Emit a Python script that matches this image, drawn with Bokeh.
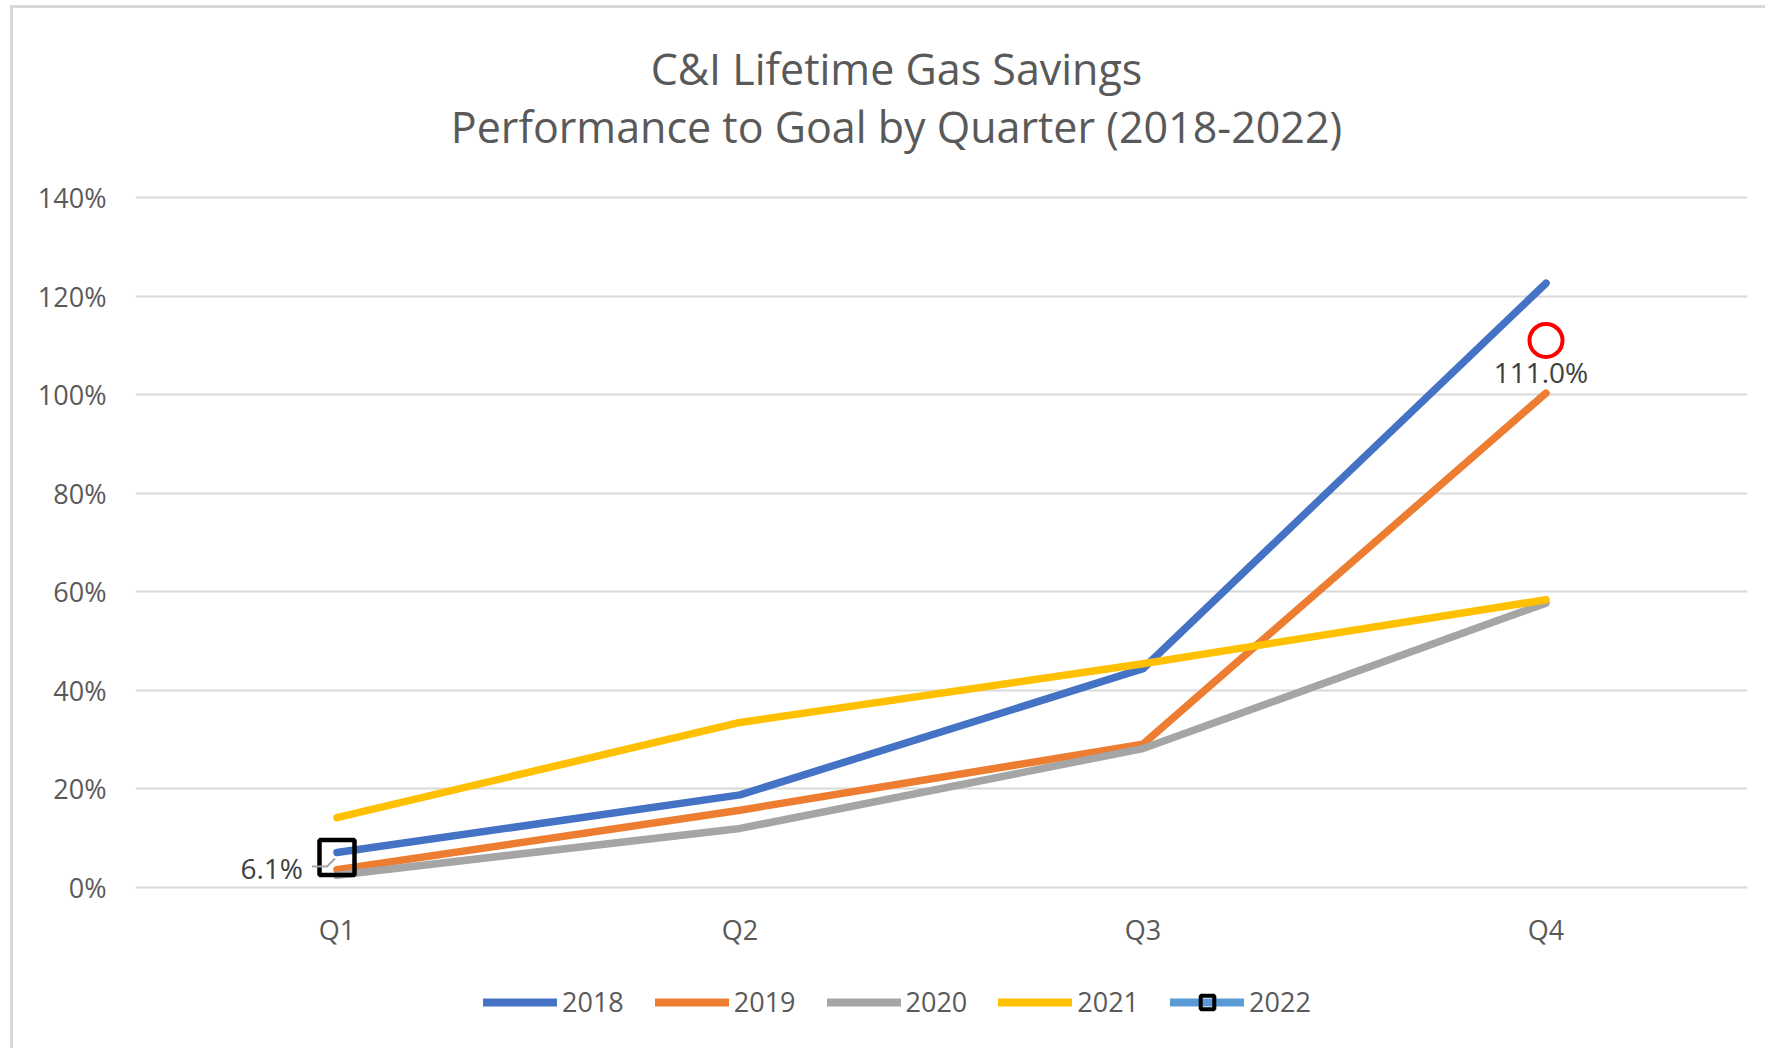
from bokeh.plotting import figure
from bokeh.layouts import column
from bokeh.models import Range1d, FixedTicker, NumeralTickFormatter, Legend, LegendItem
from bokeh.core.properties import value
from bokeh.embed import file_html
from bokeh.resources import INLINE

# ---------------- data ----------------
quarters = ["Q1", "Q2", "Q3", "Q4"]
y2018 = [0.071, 0.188, 0.444, 1.226]
y2019 = [0.036, 0.157, 0.291, 1.003]
y2020 = [0.025, 0.120, 0.282, 0.577]
y2021 = [0.142, 0.335, 0.454, 0.584]
y2022 = [0.061]
goal_q4 = [1.11]
y_ticks = [0.0, 0.2, 0.4, 0.6, 0.8, 1.0, 1.2, 1.4]
series_names = ["2018", "2019", "2020", "2021", "2022"]
series_colors = ["#4472C4", "#ED7D31", "#A5A5A5", "#FFC000", "#5B9BD5"]
title_lines = ["C&I Lifetime Gas Savings", "Performance to Goal by Quarter (2018-2022)"]

FONT = "Open Sans"
TXT = "#595959"
LW = 7.5
W = 1752
TOP = 8                      # page y where the figures start
H_HEAD, H_MAIN, H_LEG = 170, 772, 98
MB_L, MB_R = 122, 18
FRAME_L = 13 + MB_L          # page x of the plot frame's left edge
FRAME_R = 13 + W - MB_R


def bare(fig):
    fig.outline_line_color = None
    fig.background_fill_color = "white"
    fig.border_fill_color = "white"
    fig.xgrid.visible = False
    fig.ygrid.visible = False
    return fig


# ---------------- header (titles), ranges in page pixels ----------------
h = bare(figure(width=W, height=H_HEAD, output_backend="svg", toolbar_location=None,
                x_range=Range1d(FRAME_L, FRAME_R), y_range=Range1d(TOP + H_HEAD, TOP),
                x_axis_type=None, y_axis_type=None,
                min_border_left=MB_L, min_border_right=MB_R, min_border_top=0,
                min_border_bottom=0))
title_cx = 896
h.text([title_cx, title_cx], [68, 126], text=title_lines, text_align="center",
       text_baseline="middle", text_font=value(FONT), text_font_size=value("43px"),
       text_color=TXT)

# ---------------- main chart ----------------
xs = list(range(len(quarters)))
p = bare(figure(width=W, height=H_MAIN, output_backend="svg", toolbar_location=None,
                x_range=Range1d(-0.5, len(quarters) - 0.5), y_range=Range1d(-0.01, 1.41),
                min_border_left=MB_L, min_border_right=MB_R, min_border_top=14,
                min_border_bottom=54))

p.yaxis.ticker = FixedTicker(ticks=y_ticks)
p.yaxis.formatter = NumeralTickFormatter(format="0%")
p.xaxis.ticker = FixedTicker(ticks=xs)
p.xaxis.major_label_overrides = {i: q for i, q in enumerate(quarters)}
for ax in (p.xaxis, p.yaxis):
    ax.axis_line_color = None
    ax.major_tick_line_color = None
    ax.minor_tick_line_color = None
    ax.major_label_text_font = FONT
    ax.major_label_text_font_size = "27px"
    ax.major_label_text_color = TXT
p.yaxis.major_label_standoff = 23
p.xaxis.major_label_standoff = 12

p.ygrid.visible = True
p.ygrid.ticker = FixedTicker(ticks=y_ticks)
p.ygrid.grid_line_color = "#D9D9D9"
p.ygrid.grid_line_width = 2

for vals, col in zip([y2018, y2019, y2020, y2021], series_colors[:4]):
    p.line(xs, vals, line_color=col, line_width=LW, line_cap="round", line_join="round")

p.line(xs[:len(y2022)], y2022, line_color=series_colors[4], line_width=LW, line_cap="round")
p.scatter(xs[:len(y2022)], y2022, marker="square", size=35, fill_color=None,
          line_color="black", line_width=4.5)

# leader line for the 2022 data label
px_x = len(quarters) / 1612.0
px_y = 1.42 / 704.0
lx = [xs[0] - 25 * px_x, xs[0] - 10 * px_x, xs[0] - 2 * px_x]
ly = [y2022[0] - 9 * px_y, y2022[0] - 9 * px_y, y2022[0] - 1 * px_y]
p.line(lx, ly, line_color="#A6A6A6", line_width=2)

p.text(xs[:1], y2022, text=[f"{v*100:.1f}%" for v in y2022], x_offset=-34, y_offset=10,
       text_align="right", text_baseline="middle", text_font=value(FONT),
       text_font_size=value("28px"), text_color="#404040")

# highlighted Q4 value
p.scatter([xs[-1]], goal_q4, marker="circle", size=33, fill_color=None,
          line_color="#FF0000", line_width=4)
p.text([xs[-1]], goal_q4, text=[f"{v*100:.1f}%" for v in goal_q4], x_offset=-5, y_offset=32,
       text_align="center", text_baseline="middle", text_font=value(FONT),
       text_font_size=value("28px"), text_color="#404040")

# ---------------- legend strip ----------------
q = bare(figure(width=W, height=H_LEG, output_backend="svg", toolbar_location=None,
                x_range=Range1d(0, 1), y_range=Range1d(0, 1),
                x_axis_type=None, y_axis_type=None,
                min_border_left=MB_L, min_border_right=MB_R, min_border_top=0,
                min_border_bottom=0))
off = [-10]  # legend proxies live outside the visible range
LEG_LW = 8
leg_renderers = []
for col in series_colors[:4]:
    leg_renderers.append([q.line(off, off, line_color=col, line_width=LEG_LW, line_cap="round")])
leg_renderers.append([q.line(off, off, line_color=series_colors[4], line_width=LEG_LW,
                             line_cap="round"),
                      q.scatter(off, off, marker="square", size=16, fill_color=None,
                                line_color="black", line_width=4)])

legend = Legend(items=[LegendItem(label=n, renderers=rs) for n, rs in zip(series_names, leg_renderers)],
                orientation="horizontal", location=(483 - FRAME_L, 28),
                glyph_width=74, glyph_height=34, label_standoff=5, spacing=31,
                padding=0, margin=0, border_line_color=None, background_fill_alpha=0,
                label_text_font=FONT, label_text_font_size="27px", label_text_color=TXT,
                label_text_baseline="middle")
q.add_layout(legend, "center")

layout = column(h, p, q, spacing=0)
layout.styles = {"border-left": "3px solid #D9D9D9", "border-top": "3px solid #D9D9D9",
                 "margin-left": "10px", "margin-top": "5px"}

open("out.html", "w").write(file_html(layout, INLINE))
